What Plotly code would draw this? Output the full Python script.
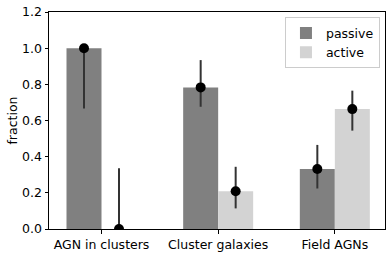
import plotly.graph_objects as go

categories = ["AGN in clusters", "Cluster galaxies", "Field AGNs"]
passive = [1.0, 0.783, 0.332]
active = [0.0, 0.209, 0.663]
passive_err_minus = [0.333, 0.107, 0.108]
passive_err_plus = [0.0, 0.151, 0.133]
active_err_minus = [0.0, 0.095, 0.119]
active_err_plus = [0.336, 0.135, 0.102]
yticks = [0.0, 0.2, 0.4, 0.6, 0.8, 1.0, 1.2]

bar_width = 0.3
idx = list(range(len(categories)))
x_passive = [i - bar_width / 2 for i in idx]
x_active = [i + bar_width / 2 for i in idx]

font = dict(family="DejaVu Sans", size=12.5, color="black")

fig = go.Figure()
fig.add_trace(go.Bar(x=x_passive, y=passive, width=bar_width, name="passive",
                     marker=dict(color="#808080", line=dict(width=0))))
fig.add_trace(go.Bar(x=x_active, y=active, width=bar_width, name="active",
                     marker=dict(color="#d3d3d3", line=dict(width=0))))
for xs, ys, em, ep in [(x_passive, passive, passive_err_minus, passive_err_plus),
                       (x_active, active, active_err_minus, active_err_plus)]:
    fig.add_trace(go.Scatter(
        x=xs, y=ys, mode="markers", showlegend=False,
        marker=dict(color="black", size=10),
        error_y=dict(type="data", symmetric=False, array=ep, arrayminus=em,
                     color="#333333", thickness=2, width=0)))

fig.add_annotation(text="fraction", xref="paper", yref="paper",
                   x=-0.11, y=0.5, xanchor="center", yanchor="middle",
                   textangle=-90, showarrow=False, font=font)

fig.update_layout(
    width=392, height=256,
    margin=dict(l=49, r=7, t=12, b=27, autoexpand=False),
    plot_bgcolor="white", paper_bgcolor="white",
    font=font,
    barmode="overlay",
    showlegend=True,
    legend=dict(x=0.985, xanchor="right", y=0.975, yanchor="top",
                bordercolor="#cccccc", borderwidth=1, bgcolor="white",
                font=font, itemwidth=30, tracegroupgap=0),
    xaxis=dict(range=[-0.45, 2.43], tickvals=idx, ticktext=categories,
               showline=True, mirror=True, linecolor="black", linewidth=1,
               ticks="outside", ticklen=3.5, tickcolor="black", showgrid=False,
               zeroline=False, automargin=False),
    yaxis=dict(range=[0, 1.2], tickvals=yticks, tickformat=".1f",
               showline=True, mirror=True, linecolor="black", linewidth=1,
               ticks="outside", ticklen=3.5, tickcolor="black", showgrid=False,
               zeroline=False, automargin=False),
)

fig.write_html("out.html", config={"displayModeBar": False},
               post_script="document.body.style.margin='0px';")
